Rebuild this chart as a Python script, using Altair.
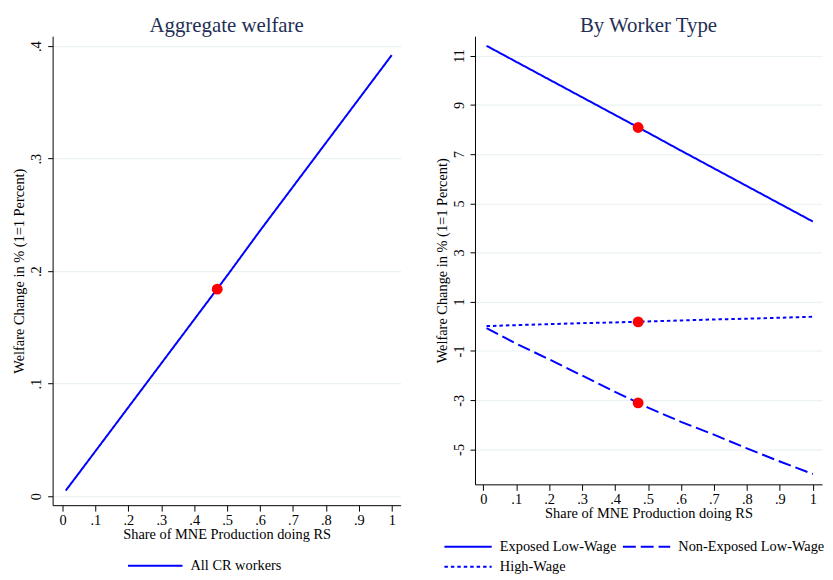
import altair as alt
import pandas as pd

# ---- data ----
share = [0.01, 0.1, 0.2, 0.3, 0.4, 0.5, 0.6, 0.7, 0.8, 0.9, 1.0]
agg_all = [0.005, 0.040, 0.079, 0.118, 0.157, 0.196, 0.236, 0.275, 0.314, 0.353, 0.392]
exposed_low = [11.40, 10.75, 10.03, 9.31, 8.59, 7.87, 7.14, 6.42, 5.70, 4.98, 4.26]
nonexposed_low = [-0.07, -0.70, -1.34, -2.00, -2.66, -3.30, -3.88, -4.40, -4.96, -5.49, -6.00]
high_wage = [0.01, 0.05, 0.09, 0.13, 0.16, 0.20, 0.24, 0.28, 0.31, 0.35, 0.39]

dot_share = 0.47
agg_dot = [0.184]
type_dots = [8.08, -3.11, 0.18]

series_left = ["All CR workers"]
series_right = ["Exposed Low-Wage", "Non-Exposed Low-Wage", "High-Wage"]
# legend entry order (entries fill the two columns top to bottom)
legend_order_right = ["Exposed Low-Wage", "High-Wage", "Non-Exposed Low-Wage"]

x_ticks = [0, 0.1, 0.2, 0.3, 0.4, 0.5, 0.6, 0.7, 0.8, 0.9, 1]
y_ticks_left = [0, 0.1, 0.2, 0.3, 0.4]
y_ticks_right = [-5, -3, -1, 1, 3, 5, 7, 9, 11]

FONT = "Liberation Serif"
TITLE_COLOR = "#1f2f55"
BLUE = "#0000ff"
RED = "#ff0000"
GRID = "#eaf2f3"
FS = 14.5

dec_label = "datum.value == 0 ? '0' : datum.value == 1 ? '1' : substring(format(datum.value, '.1f'), 1)"

df_left = pd.DataFrame({"share": share, "value": agg_all, "series": series_left[0]})
df_left_dot = pd.DataFrame({"share": [dot_share], "value": agg_dot})

rows = []
for name, vals in zip(series_right, [exposed_low, nonexposed_low, high_wage]):
    for s, v in zip(share, vals):
        rows.append({"share": s, "value": v, "series": name})
df_right = pd.DataFrame(rows)
df_right_dot = pd.DataFrame({"share": [dot_share] * 3, "value": type_dots})


def x_enc(domain):
    return alt.X(
        "share:Q",
        scale=alt.Scale(domain=domain, nice=False, zero=False),
        axis=alt.Axis(
            values=x_ticks, tickCount=11, labelExpr=dec_label, grid=False,
            labelOverlap=False, labelFlush=False,
            title="Share of MNE Production doing RS",
            tickSize=6, labelPadding=2, titlePadding=1,
        ),
    )


def y_axis(values, label_expr):
    return alt.Axis(
        values=values, tickCount=len(values), labelExpr=label_expr, grid=True,
        labelOverlap=False, labelFlush=False,
        labelAngle=270, labelAlign="center", labelBaseline="bottom",
        title="Welfare Change in % (1=1 Percent)",
        tickSize=5, labelPadding=4, titlePadding=2,
    )


def make_title(text):
    return alt.TitleParams(
        text, font=FONT, fontSize=21, fontWeight="normal", color=TITLE_COLOR,
        anchor="middle", offset=-17, baseline="alphabetic",
    )


def legend(x, y, size, values, columns=1):
    return alt.Legend(
        title=None, orient="none", legendX=x, legendY=y, values=values,
        columns=columns, columnPadding=5, rowPadding=4, clipHeight=16,
        symbolType="stroke", symbolSize=size, symbolStrokeWidth=2,
        symbolStrokeColor=BLUE, labelFont=FONT, labelFontSize=FS,
        labelColor="black", labelOffset=7, padding=0,
    )


# ---- left panel ----
xl = x_enc([-0.03, 1.027])
yl = alt.Y("value:Q", scale=alt.Scale(domain=[-0.008, 0.4088], nice=False, zero=False),
           axis=y_axis(y_ticks_left, dec_label))

left_line = alt.Chart(df_left).mark_line(color=BLUE, strokeWidth=2).encode(
    x=xl, y=yl,
    strokeDash=alt.StrokeDash(
        "series:N",
        scale=alt.Scale(domain=series_left, range=[[1, 0]]),
        legend=legend(75, 526, 3025, series_left),
    ),
)
left_dot = alt.Chart(df_left_dot).mark_circle(color=RED, size=120, opacity=1).encode(
    x=alt.X("share:Q"), y=alt.Y("value:Q")
)
left = alt.layer(left_line, left_dot).properties(
    width=351, height=473, title=make_title("Aggregate welfare")
)

# ---- right panel ----
xr = x_enc([-0.025, 1.028])
yr = alt.Y("value:Q", scale=alt.Scale(domain=[-6.42, 11.79], nice=False, zero=False),
           axis=y_axis(y_ticks_right, "'' + datum.value"))

right_line = alt.Chart(df_right).mark_line(color=BLUE, strokeWidth=2).encode(
    x=xr, y=yr,
    strokeDash=alt.StrokeDash(
        "series:N",
        scale=alt.Scale(domain=series_right, range=[[1, 0], [13, 5], [3.5, 3]]),
        legend=legend(-32, 507, 2275, legend_order_right, columns=2),
    ),
    detail="series:N",
)
right_dot = alt.Chart(df_right_dot).mark_circle(color=RED, size=120, opacity=1).encode(
    x=alt.X("share:Q"), y=alt.Y("value:Q")
)
right = alt.layer(right_line, right_dot).properties(
    width=350, height=452, title=make_title("By Worker Type")
)

chart = (
    alt.hconcat(left, right, spacing=34)
    .resolve_scale(strokeDash="independent", x="independent", y="independent")
    .resolve_legend(strokeDash="independent")
    .properties(padding={"left": 3, "top": 5, "right": 0, "bottom": 0})
    .configure_view(strokeWidth=0)
    .configure_axis(
        domainColor="black", domainWidth=1, tickColor="black", tickWidth=1,
        labelFont=FONT, labelFontSize=FS, labelColor="black",
        titleFont=FONT, titleFontSize=FS, titleFontWeight="normal", titleColor="black",
        gridColor=GRID, gridWidth=1.2,
    )
)

chart.save("out.html", embed_options={"renderer": "svg", "actions": False})
